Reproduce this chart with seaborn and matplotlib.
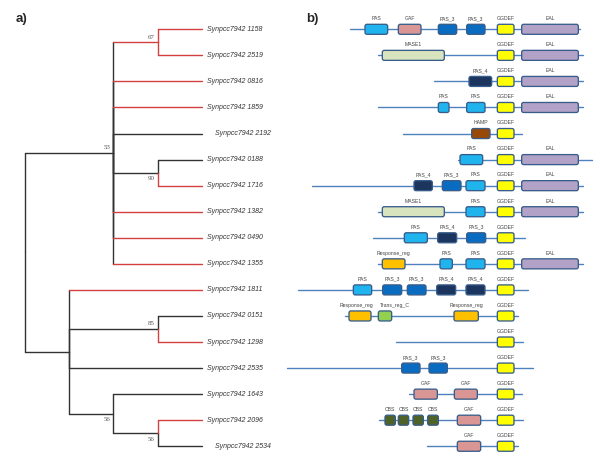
import numpy as np
import pandas as pd
import seaborn as sns
import matplotlib.pyplot as plt
from matplotlib.patches import FancyBboxPatch

# ---- tree (cladogram) ----
leaves = ['1158', '2519', '0816', '1859', '2192', '0188', '1716', '1382', '0490',
          '1355', '1811', '0151', '1298', '2535', '1643', '2096', '2534']
leaf_parent = ['B', 'B', 'A', 'A', 'A', 'C', 'C', 'A', 'A', 'A',
               'D', 'E', 'E', 'D', 'F', 'G', 'G']
leaf_red = [1, 1, 1, 1, 0, 0, 1, 1, 1, 1, 1, 0, 1, 0, 0, 1, 0]
indented = {'2192', '2534'}

node_names = ['root', 'A', 'B', 'C', 'D', 'E', 'F', 'G']
node_level = [0, 2, 3, 3, 1, 3, 2, 3]
node_parent = [None, 'root', 'A', 'A', 'root', 'D', 'D', 'F']
node_red = {'B'}
bootstrap = {'A': 53, 'B': 67, 'C': 90, 'E': 85, 'F': 56, 'G': 56}
bootstrap_below = {'C', 'F', 'G'}
tip_level = 4

# ---- domain architectures ----
backbone_start = [180, 263, 433, 263, 340, 503, 67, 263, 250, 263, 25, 165, 318, -9, 357, 268, 412]
backbone_end = [870, 880, 880, 880, 697, 905, 880, 880, 705, 880, 713, 683, 700, 730, 695, 700, 685]
domains = [
    [('PAS', 225, 293), ('GAF', 325, 393), ('PAS_3', 445, 500), ('PAS_3', 530, 585), ('GGDEF', 622, 672), ('EAL', 695, 865)],
    [('MASE1', 277, 463), ('GGDEF', 622, 672), ('EAL', 695, 865)],
    [('PAS_4', 537, 605), ('GGDEF', 622, 672), ('EAL', 695, 865)],
    [('PAS', 445, 477), ('PAS', 530, 585), ('GGDEF', 622, 672), ('EAL', 695, 865)],
    [('HAMP', 545, 600), ('GGDEF', 622, 672)],
    [('PAS', 510, 578), ('GGDEF', 622, 672), ('EAL', 695, 865)],
    [('PAS_4', 372, 427), ('PAS_3', 457, 513), ('PAS', 528, 585), ('GGDEF', 622, 672), ('EAL', 695, 865)],
    [('MASE1', 277, 463), ('PAS', 528, 585), ('GGDEF', 622, 672), ('EAL', 695, 865)],
    [('PAS', 343, 412), ('PAS_4', 443, 500), ('PAS_3', 530, 587), ('GGDEF', 622, 672)],
    [('Response_reg', 277, 345), ('PAS', 450, 487), ('PAS', 528, 585), ('GGDEF', 622, 672), ('EAL', 695, 865)],
    [('PAS', 190, 245), ('PAS_3', 278, 335), ('PAS_3', 352, 408), ('PAS_4', 440, 497), ('PAS_4', 528, 585), ('GGDEF', 622, 672)],
    [('Response_reg', 177, 243), ('Trans_reg_C', 265, 305), ('Response_reg', 492, 565), ('GGDEF', 622, 672)],
    [('GGDEF', 622, 672)],
    [('PAS_3', 335, 390), ('PAS_3', 417, 472), ('GGDEF', 622, 672)],
    [('GAF', 372, 442), ('GAF', 493, 562), ('GGDEF', 622, 672)],
    [('CBS', 285, 316), ('CBS', 325, 356), ('CBS', 369, 400), ('CBS', 413, 445), ('GAF', 502, 572), ('GGDEF', 622, 672)],
    [('GAF', 502, 572), ('GGDEF', 622, 672)],
]
label_shift = {(11, 0): -10, (11, 1): 30}

domain_colors = {
    'PAS': '#1fb4ee', 'GAF': '#d99694', 'PAS_3': '#0a6cc0', 'PAS_4': '#1c355e',
    'GGDEF': '#ffff00', 'EAL': '#b3a2c7', 'MASE1': '#d7e4bd', 'HAMP': '#984807',
    'Response_reg': '#ffc000', 'Trans_reg_C': '#92d050', 'CBS': '#4f6228',
}

sns.set_theme(style='white')
plt.rcParams['font.family'] = ['Liberation Sans', 'DejaVu Sans']

fig = plt.figure(figsize=(6, 4.65), dpi=100)
ax_tree = fig.add_axes([0, 0, 290 / 600, 1])
ax_dom = fig.add_axes([280 / 600, 0, 320 / 600, 1])
for ax in (ax_tree, ax_dom):
    ax.patch.set_alpha(0)

# node positions
level = dict(zip(node_names, node_level))
children = {n: [] for n in node_names}
for lf, p in zip(leaves, leaf_parent):
    children[p].append(lf)
for n, p in zip(node_names, node_parent):
    if p:
        children[p].append(n)
ypos = {lf: i for i, lf in enumerate(leaves)}
xpos = {lf: tip_level for lf in leaves}
color_of = {lf: ('red' if r else 'black') for lf, r in zip(leaves, leaf_red)}


def place(n):
    ys = [place(c) if c in children else ypos[c] for c in children[n]]
    ypos[n] = (min(ys) + max(ys)) / 2
    xpos[n] = level[n]
    return ypos[n]


place('root')
for n in node_names:
    color_of[n] = 'red' if n in node_red else 'black'

rows = []
seg = 0
for p in node_names:
    for c in children[p]:
        vcol = color_of[c] if level[p] == 3 else 'black'
        rows += [(seg, xpos[p], ypos[p], vcol), (seg, xpos[p], ypos[c], vcol)]
        seg += 1
        rows += [(seg, xpos[p], ypos[c], color_of[c]), (seg, xpos[c], ypos[c], color_of[c])]
        seg += 1
seg_df = pd.DataFrame(rows, columns=['seg', 'x', 'y', 'color'])
sns.lineplot(data=seg_df, x='x', y='y', units='seg', hue='color',
             palette={'black': '#333333', 'red': '#d43f3f'}, estimator=None,
             sort=False, legend=False, linewidth=1.0, ax=ax_tree)

for lf in leaves:
    gap = 0.3 if lf in indented else 0.11
    ax_tree.text(tip_level + gap, ypos[lf], 'Synpcc7942 ' + lf, fontsize=5,
                 style='italic', color='#333333', va='center', ha='left')

for n, b in bootstrap.items():
    dy = 0.24 if n in bootstrap_below else -0.2
    ax_tree.text(xpos[n] - 0.07, ypos[n] + dy, str(b), fontsize=5,
                 family='Liberation Serif', color='#555555', ha='right', va='center')

ax_tree.set_xlim(-25 / 44.2, 265 / 44.2)
ax_tree.set_ylim((465 - 29.3) / 26.06, -29.3 / 26.06)
ax_tree.axis('off')

# domain panel
bb = []
for i, (s, e) in enumerate(zip(backbone_start, backbone_end)):
    bb += [(i, s, i), (i, e, i)]
bb_df = pd.DataFrame(bb, columns=['row', 'x', 'y'])
sns.lineplot(data=bb_df, x='x', y='y', units='row', estimator=None, sort=False,
             color='#4f81bd', linewidth=1.0, legend=False, ax=ax_dom)

box_h = 0.384
aspect = (1 / 26.06) / 3.0
for i, row in enumerate(domains):
    for j, (name, s, e) in enumerate(row):
        box = FancyBboxPatch((s, i - box_h / 2), e - s, box_h,
                             boxstyle='round,pad=0,rounding_size=6',
                             mutation_aspect=aspect, facecolor=domain_colors[name],
                             edgecolor='#385d8a', linewidth=0.95, zorder=3)
        ax_dom.add_patch(box)
        ax_dom.text((s + e) / 2 + label_shift.get((i, j), 0), i - 0.41, name,
                    fontsize=3.7, color='#444444', ha='center', va='center')

ax_dom.set_xlim(-30, 930)
ax_dom.set_ylim((465 - 29.3) / 26.06, -29.3 / 26.06)
ax_dom.axis('off')

fig.text(22 / 600, 1 - 19 / 465, 'a)', fontsize=9.5, fontweight='bold', ha='center', va='center')
fig.text(312 / 600, 1 - 19 / 465, 'b)', fontsize=9.5, fontweight='bold', ha='center', va='center')

fig.savefig('out.png', dpi=100)
